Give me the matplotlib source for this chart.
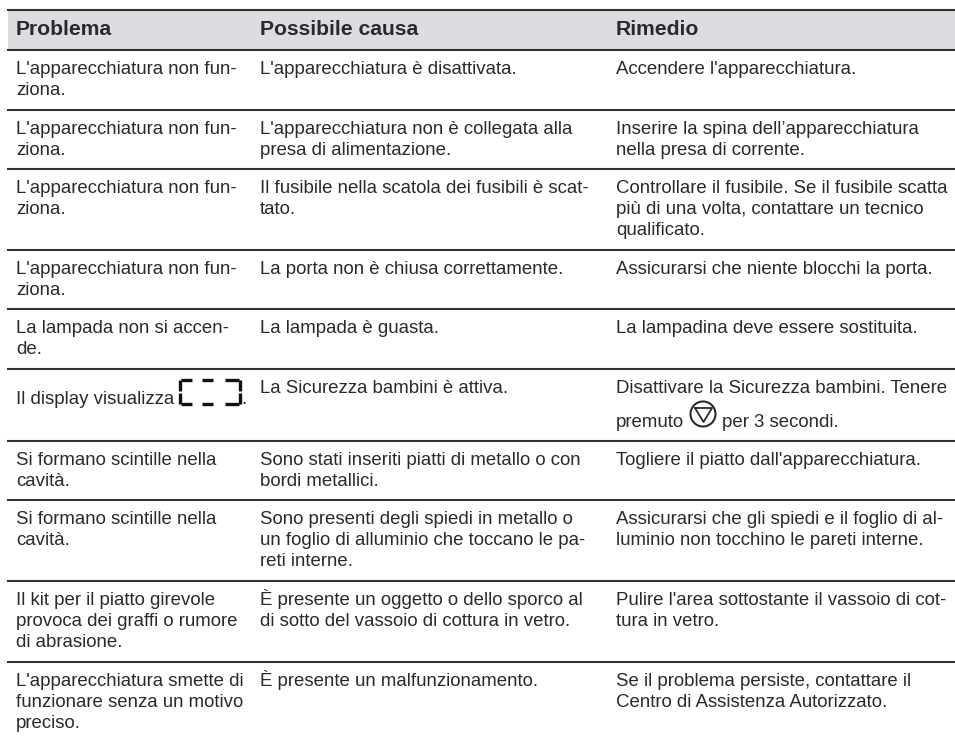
import matplotlib
matplotlib.use('Agg')
import matplotlib.pyplot as plt
from matplotlib.patches import Circle, Rectangle

headers = ['Problema', 'Possibile causa', 'Rimedio']

problema = [
    "L'apparecchiatura non fun-\nziona.",
    "L'apparecchiatura non fun-\nziona.",
    "L'apparecchiatura non fun-\nziona.",
    "L'apparecchiatura non fun-\nziona.",
    "La lampada non si accen-\nde.",
    "",
    "Si formano scintille nella\ncavità.",
    "Si formano scintille nella\ncavità.",
    "Il kit per il piatto girevole\nprovoca dei graffi o rumore\ndi abrasione.",
    "L'apparecchiatura smette di\nfunzionare senza un motivo\npreciso.",
]
causa = [
    "L'apparecchiatura è disattivata.",
    "L'apparecchiatura non è collegata alla\npresa di alimentazione.",
    "Il fusibile nella scatola dei fusibili è scat-\ntato.",
    "La porta non è chiusa correttamente.",
    "La lampada è guasta.",
    "La Sicurezza bambini è attiva.",
    "Sono stati inseriti piatti di metallo o con\nbordi metallici.",
    "Sono presenti degli spiedi in metallo o\nun foglio di alluminio che toccano le pa-\nreti interne.",
    "È presente un oggetto o dello sporco al\ndi sotto del vassoio di cottura in vetro.",
    "È presente un malfunzionamento.",
]
rimedio = [
    "Accendere l'apparecchiatura.",
    "Inserire la spina dell’apparecchiatura\nnella presa di corrente.",
    "Controllare il fusibile. Se il fusibile scatta\npiù di una volta, contattare un tecnico\nqualificato.",
    "Assicurarsi che niente blocchi la porta.",
    "La lampadina deve essere sostituita.",
    "Disattivare la Sicurezza bambini. Tenere",
    "Togliere il piatto dall'apparecchiatura.",
    "Assicurarsi che gli spiedi e il foglio di al-\nluminio non tocchino le pareti interne.",
    "Pulire l'area sottostante il vassoio di cot-\ntura in vetro.",
    "Se il problema persiste, contattare il\nCentro di Assistenza Autorizzato.",
]

# layout in pixels
row_lines = [50, 110, 169, 250, 309, 369, 441, 500, 581, 662]
col_x = [16, 260, 616]
line_h = 21.2
text_col = '#2a2a2a'
line_col = '#333333'
fs = 13.4

plt.rcParams['font.family'] = ['Liberation Sans', 'DejaVu Sans']

fig = plt.figure(figsize=(9.55, 7.36), dpi=100)
ax = fig.add_axes([0, 0, 1, 1])
ax.set_xlim(0, 955)
ax.set_ylim(736, 0)
ax.axis('off')

# header band
ax.add_patch(Rectangle((8, 10), 947, 40, facecolor='#dcdde0', edgecolor='none'))
ax.plot([8, 955], [10, 10], color=line_col, lw=1.5)
for x, h in zip(col_x, headers):
    ax.text(x, 35, h, fontsize=15.2, fontweight='bold', color=text_col, va='baseline')

for y in row_lines:
    ax.plot([8, 955], [y, y], color=line_col, lw=1.5)

for col, items in zip(col_x, [problema, causa, rimedio]):
    for i, s in enumerate(items):
        for k, part in enumerate(s.split('\n')):
            ax.text(col, row_lines[i] + 24 + k * line_h, part, fontsize=fs,
                    color=text_col, va='baseline')

# row with the icons
ax.text(16, 404, 'Il display visualizza', fontsize=fs, color=text_col, va='baseline')
ax.text(241, 404, '.', fontsize=fs, color=text_col, va='baseline')
ax.text(616, 427, 'premuto', fontsize=fs, color=text_col, va='baseline')
ax.text(722, 427, 'per 3 secondi.', fontsize=fs, color=text_col, va='baseline')

# stop button icon
ax.add_patch(Circle((703, 414), 12.5, facecolor='none', edgecolor=text_col, lw=1.5))
ax.plot([695, 712, 703.5, 695], [408, 408, 422, 408], color=text_col, lw=1.3)

# display icon
seg = dict(color='#111111', lw=2.4, solid_capstyle='butt')
ax.plot([180, 180], [380, 391], **seg)
ax.plot([180, 180], [393, 404], **seg)
ax.plot([181, 192], [380, 380], **seg)
ax.plot([181, 192], [404, 404], **seg)
ax.plot([202, 213], [380, 380], **seg)
ax.plot([202, 213], [404, 404], **seg)
ax.plot([225, 239], [380, 380], **seg)
ax.plot([225, 239], [404, 404], **seg)
ax.plot([240, 240], [380, 391], **seg)
ax.plot([240, 240], [393, 404], **seg)

fig.savefig('out.png', dpi=100)
